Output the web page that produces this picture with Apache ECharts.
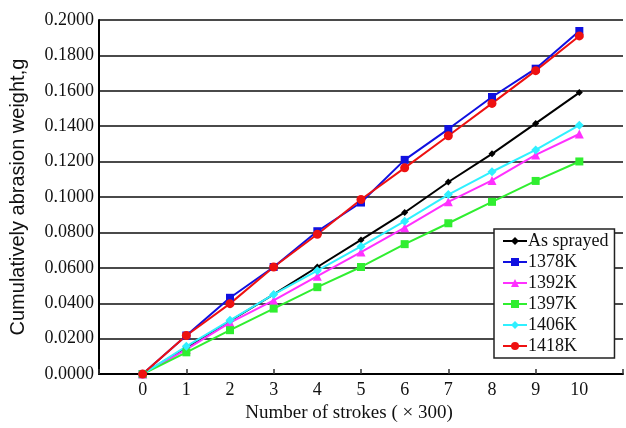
<!DOCTYPE html>
<html>
<head>
<meta charset="utf-8">
<script src="https://cdn.jsdelivr.net/npm/echarts@6/dist/echarts.min.js"></script>
<style>html,body{margin:0;padding:0;background:#fff}#c{width:626px;height:428px}</style>
</head>
<body>
<div id="c"></div>
<script>
var strokes = [0, 1, 2, 3, 4, 5, 6, 7, 8, 9, 10];
var asSprayed = [0, 0.0150, 0.0300, 0.0450, 0.0605, 0.0758, 0.0913, 0.1085, 0.1244, 0.1416, 0.1590];
var k1378 = [0, 0.0218, 0.0431, 0.0605, 0.0807, 0.0969, 0.1210, 0.1384, 0.1565, 0.1725, 0.1938];
var k1392 = [0, 0.0140, 0.0291, 0.0416, 0.0553, 0.0689, 0.0827, 0.0973, 0.1094, 0.1238, 0.1356];
var k1397 = [0, 0.0123, 0.0248, 0.0370, 0.0491, 0.0605, 0.0734, 0.0852, 0.0973, 0.1091, 0.1201];
var k1406 = [0, 0.0157, 0.0304, 0.0450, 0.0584, 0.0721, 0.0864, 0.1014, 0.1143, 0.1266, 0.1406];
var k1418 = [0, 0.0218, 0.0398, 0.0605, 0.0790, 0.0986, 0.1165, 0.1346, 0.1529, 0.1714, 0.1910];
var seriesNames = ['As sprayed', '1378K', '1392K', '1397K', '1406K', '1418K'];

function pairs(ys) { return strokes.map(function (x, i) { return [x, ys[i]]; }); }
var serif = '"Liberation Serif", "Times New Roman", serif';

function mk(name, ys, color, symbol, size) {
  return {
    name: name, type: 'line', data: pairs(ys),
    symbol: symbol, symbolSize: size,
    lineStyle: { color: color, width: 2 },
    itemStyle: { color: color },
    animation: false
  };
}

var chart = echarts.init(document.getElementById('c'));
chart.setOption({
  backgroundColor: '#fff',
  animation: false,
  grid: { left: 98, right: 0, top: 20, bottom: 51 },
  legend: {
    orient: 'vertical', left: 494, top: 229,
    data: seriesNames,
    backgroundColor: '#fff', borderColor: '#222', borderWidth: 1.5,
    padding: [3, 6, 3, 8],
    itemWidth: 24, itemHeight: 10, itemGap: 3,
    textStyle: { fontFamily: serif, fontSize: 18, color: '#111', lineHeight: 18, padding: [0, 0, 0, -4] }
  },
  xAxis: [{
    type: 'value', min: -1, max: 11, interval: 1,
    name: 'Number of strokes ( × 300)', nameLocation: 'middle', nameGap: 22,
    nameTextStyle: { fontFamily: serif, fontSize: 19, color: '#111', padding: [0, 24, 0, 0] },
    axisLine: { show: true, onZero: false, lineStyle: { color: '#000', width: 2 } },
    axisTick: { show: false },
    splitLine: { show: false },
    axisLabel: {
      fontFamily: serif, fontSize: 18, color: '#111', margin: 7,
      formatter: function (v) { return (v < 0 || v > 10) ? '' : String(v); }
    }
  }, {
    type: 'value', min: -1, max: 11, interval: 2, position: 'bottom',
    axisLine: { show: false, onZero: false },
    axisTick: { show: true, inside: true, length: 5, lineStyle: { color: '#333', width: 1.5 } },
    axisLabel: { show: false }, splitLine: { show: false }
  }],
  yAxis: {
    type: 'value', min: 0, max: 0.2, interval: 0.02,
    name: 'Cumulatively abrasion weight,g', nameLocation: 'middle', nameGap: 71,
    nameTextStyle: { fontFamily: '"Liberation Sans", Arial, sans-serif', fontSize: 20, color: '#111' },
    axisLine: { show: true, onZero: false, lineStyle: { color: '#000', width: 2 } },
    axisTick: { show: false },
    splitLine: { show: true, lineStyle: { color: '#4a4a4a', width: 2 } },
    axisLabel: {
      fontFamily: serif, fontSize: 18, color: '#111', margin: 5,
      formatter: function (v) { return v.toFixed(4); }
    }
  },
  series: [
    mk(seriesNames[0], asSprayed, '#000000', 'diamond', 7),
    mk(seriesNames[1], k1378, '#1010e0', 'rect', 8),
    mk(seriesNames[2], k1392, '#ff30ff', 'triangle', 9),
    mk(seriesNames[3], k1397, '#30ee30', 'rect', 8),
    mk(seriesNames[4], k1406, '#30f0ff', 'diamond', 9),
    mk(seriesNames[5], k1418, '#ee1111', 'circle', 9)
  ]
});
</script>
</body>
</html>
